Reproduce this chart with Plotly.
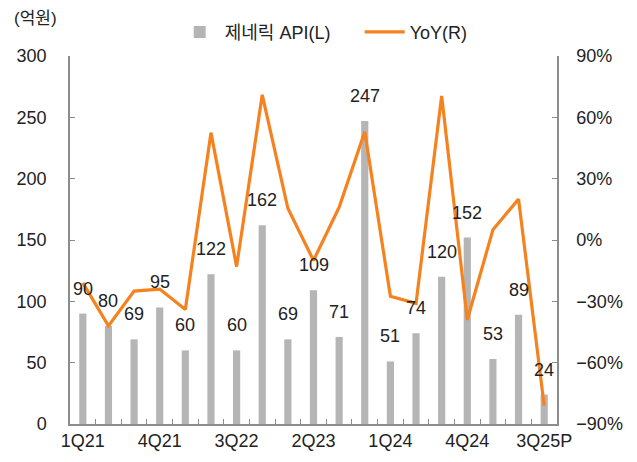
import plotly.graph_objects as go

categories = ["1Q21","2Q21","3Q21","4Q21","1Q22","2Q22","3Q22","4Q22","1Q23","2Q23",
              "3Q23","4Q23","1Q24","2Q24","3Q24","4Q24","1Q25","2Q25","3Q25P"]
api_values = [90, 80, 69, 95, 60, 122, 60, 162, 69, 109, 71, 247, 51, 74, 120, 152, 53, 89, 24]
yoy_values = [-21, -42, -25, -24, -34, 52.5, -13, 71, 15.5, -10, 16, 53, -27.5, -31, 70.5, -39, 5, 20, -81]
tick_labels = ["1Q21","","","4Q21","","","3Q22","","","2Q23","","","1Q24","","","4Q24","","","3Q25P"]

FONT = "Liberation Sans, Arial, Noto Sans CJK KR, sans-serif"
TXT = "#222222"
AX = "#8c8c8c"

fig = go.Figure()
fig.add_trace(go.Bar(x=categories, y=api_values, name="제네릭 API(L)",
                     marker=dict(color="#b5b5b5", line=dict(width=0)), width=0.28))
fig.add_trace(go.Scatter(x=categories, y=yoy_values, name="YoY(R)", yaxis="y2",
                         mode="lines", line=dict(color="#f5821f", width=3.2)))

for c, v in zip(categories, api_values):
    fig.add_annotation(x=c, y=v, text=str(v), showarrow=False, yshift=25,
                       font=dict(size=18, color=TXT, family=FONT))

fig.add_annotation(xref="paper", yref="paper", x=-0.12, y=1.103, xanchor="left", yanchor="middle",
                   text="(억원)", showarrow=False, font=dict(size=17, color=TXT, family=FONT))

fig.update_layout(
    width=637, height=462,
    margin=dict(l=70, r=80, t=56, b=38),
    paper_bgcolor="white", plot_bgcolor="white",
    font=dict(family=FONT, size=18, color=TXT),
    showlegend=True,
    legend=dict(orientation="h", x=0.215, xanchor="left", y=1.115, yanchor="top",
                font=dict(size=18, color=TXT), itemwidth=40, tracegroupgap=0,
                entrywidth=130, entrywidthmode="pixels",
                bgcolor="rgba(0,0,0,0)"),
    bargap=0.7,
    xaxis=dict(type="category", tickmode="array", tickvals=categories, ticktext=tick_labels,
               tickson="boundaries", ticks="inside", ticklen=5, tickcolor=AX, tickangle=0,
               showline=True, linecolor=AX, linewidth=1.5, showgrid=False, automargin=False,
               tickfont=dict(size=18, color=TXT), range=[-0.5, 18.5]),
    yaxis=dict(range=[0, 300], dtick=50, showgrid=False, zeroline=False, automargin=False,
               showline=True, linecolor=AX, linewidth=1.5, ticks="inside", ticklen=5,
               tickcolor=AX, tickfont=dict(size=18, color=TXT), ticklabelstandoff=18),
    yaxis2=dict(range=[-90, 90], dtick=30, overlaying="y", side="right", showgrid=False,
                zeroline=False, showline=True, linecolor=AX, linewidth=1.5, ticks="inside",
                ticklen=5, tickcolor=AX, ticksuffix="%", tickfont=dict(size=18, color=TXT),
                ticklabelstandoff=14, automargin=False),
)

fig.write_html("out.html")
